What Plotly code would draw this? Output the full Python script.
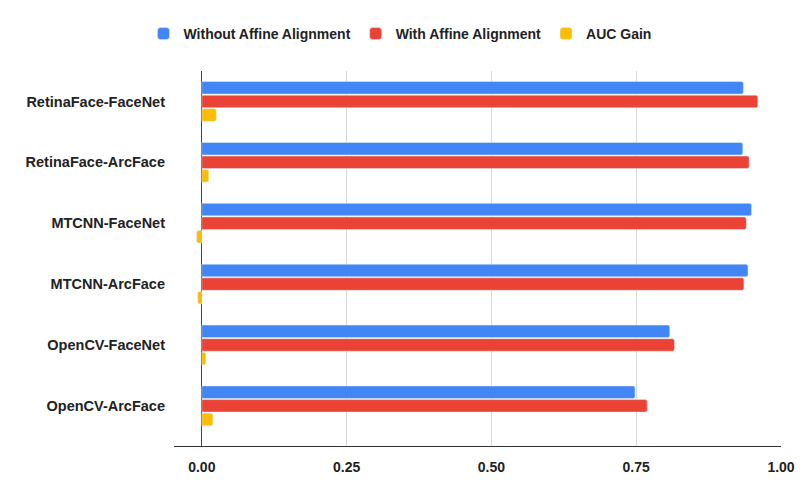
import plotly.graph_objects as go

categories = ["RetinaFace-FaceNet", "RetinaFace-ArcFace", "MTCNN-FaceNet",
              "MTCNN-ArcFace", "OpenCV-FaceNet", "OpenCV-ArcFace"]
without_affine = [0.935, 0.934, 0.949, 0.943, 0.808, 0.748]
with_affine = [0.960, 0.945, 0.940, 0.936, 0.816, 0.769]
auc_gain = [0.025, 0.012, -0.009, -0.007, 0.007, 0.019]
x_ticks = [0, 0.25, 0.5, 0.75, 1.0]
x_tick_labels = ["0.00", "0.25", "0.50", "0.75", "1.00"]

fig = go.Figure()
fig.add_trace(go.Bar(y=categories, x=without_affine, orientation="h",
                     name="Without Affine Alignment", marker_color="#4285F4"))
fig.add_trace(go.Bar(y=categories, x=with_affine, orientation="h",
                     name="With Affine Alignment", marker_color="#EA4335"))
fig.add_trace(go.Bar(y=categories, x=auc_gain, orientation="h",
                     name="AUC Gain", marker_color="#FBBC04"))

fig.update_layout(
    width=800, height=497,
    margin=dict(l=174, r=19, t=71, b=51),
    barmode="group", bargap=0.33, bargroupgap=0.08, barcornerradius=2,
    plot_bgcolor="white", paper_bgcolor="white",
    font=dict(family="Liberation Sans, Arial, sans-serif", size=14, color="#222222"),
    legend=dict(orientation="h", xref="container", x=0.5, xanchor="center",
                yref="container", y=1 - 34 / 497, yanchor="middle",
                font=dict(size=14, color="#222222", weight="bold"), itemwidth=30),
    showlegend=True,
)
fig.update_xaxes(range=[-0.048, 1.0], tickvals=x_ticks, ticktext=x_tick_labels,
                 automargin=False,
                 showgrid=True, gridcolor="#d9d9d9", gridwidth=1,
                 zeroline=True, zerolinecolor="#444444", zerolinewidth=1,
                 showline=True, linecolor="#333333", linewidth=1,
                 ticks="", tickfont=dict(size=14, color="#222222", weight="bold"),
                 ticklabelstandoff=8)
fig.update_yaxes(range=[5.66, -0.5], showgrid=False, ticks="", automargin=False,
                 tickfont=dict(size=14.5, color="#222222", weight="bold"), ticklabelstandoff=8)

fig.write_html("out.html")
